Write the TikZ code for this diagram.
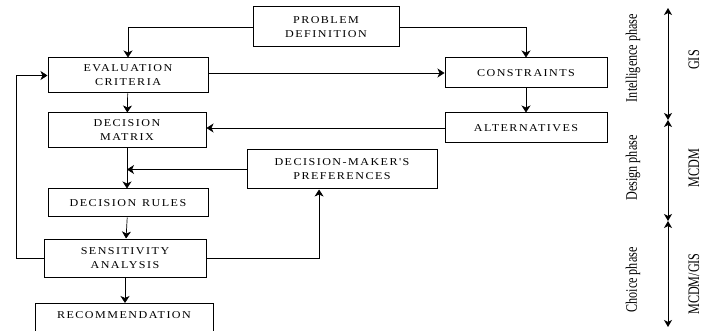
\documentclass[tikz,border=0pt]{standalone}
\usepackage{fontspec}
\setmainfont{Liberation Serif}
\newfontfamily\boxfont[LetterSpace=14,FakeStretch=1.15,WordSpace=1.3]{Liberation Serif}
\newfontfamily\phasefont[FakeStretch=0.76]{Liberation Serif}
\usetikzlibrary{arrows.meta,calc}

\tikzset{
	stepbox/.style={draw,line width=1pt,align=center,inner sep=2pt,
		font=\boxfont\fontsize{10.5}{14}\selectfont},
	link/.style={line width=0.7pt,-{Stealth[length=7pt,width=9pt,inset=2pt]}},
	phase/.style={line width=0.8pt,{Stealth[length=7pt,width=8pt,inset=2pt]}-{Stealth[length=7pt,width=8pt,inset=2pt]}},
	phaselabel/.style={rotate=90,inner sep=0pt,font=\phasefont\fontsize{16}{18}\selectfont}
}

\begin{document}
\begin{tikzpicture}[x=1pt,y=-1pt]
		\useasboundingbox (0,0) rectangle (704,331);
		
		% boxes, left column
		\node[stepbox,minimum width=146pt,minimum height=40pt] (prob) at (326,27) {PROBLEM\\DEFINITION};
		\node[stepbox,minimum width=160pt,minimum height=35pt] (eval) at (128,75.5) {EVALUATION\\CRITERIA};
		\node[stepbox,minimum width=158pt,minimum height=35pt] (matrix) at (127,130.5) {DECISION\\MATRIX};
		\node[stepbox,minimum width=160pt,minimum height=28pt] (rules) at (128,203) {DECISION RULES};
		\node[stepbox,minimum width=162pt,minimum height=38pt] (sens) at (125,258) {SENSITIVITY\\ANALYSIS};
		\node[stepbox,minimum width=178pt,anchor=north,text height=7pt,text depth=12pt,inner ysep=8pt] (recom) at (124,303) {RECOMMENDATION};
		
		% boxes, right column
		\node[stepbox,minimum width=162pt,minimum height=30pt] (cons) at (526,73) {CONSTRAINTS};
		\node[stepbox,minimum width=162pt,minimum height=30pt] (alt) at (526,128) {ALTERNATIVES};
		\node[stepbox,minimum width=190pt,minimum height=39pt] (pref) at (342,169.5) {DECISION-MAKER'S\\PREFERENCES};
		
		% flow
		\draw[link] (prob.west) -| (eval.north);
		\draw[link] (prob.east) -| (cons.north);
		\draw[link] (eval.east |- cons.west) -- (cons.west);
		\draw[link] (cons) -- (alt);
		\draw[link] (alt.west) -- (alt.west -| matrix.east);
		\draw[link] (eval) -- (matrix);
		\draw[link] (matrix.south) -- (matrix.south |- rules.north);
		\draw[link] (pref.west) -- (pref.west -| matrix.south);
		\draw[link] (rules) -- (sens);
		\draw[link] (sens.south) -- (sens.south |- recom.north);
		
		% feedback loops
		\coordinate (loop) at (16,0);
		\draw[link] (sens.west) -- (sens.west -| loop) |- (eval.west);
		\draw[link] (sens.east) -| ($(pref.south west)!0.38!(pref.south east)$);
		
		% phases
		\coordinate (t0) at (668,8);
		\coordinate (t1) at (668,120);
		\coordinate (t2) at (668,221);
		\coordinate (t3) at (668,327);
		\draw[phase] (t0) -- (t1);
		\draw[phase] (t1) -- (t2);
		\draw[phase] (t2) -- (t3);
		
		% labels
		\node[phaselabel] (intel) at (633,58) {Intelligence phase};
		\node[phaselabel] (design) at (633,168) {Design phase};
		\node[phaselabel] (choice) at (633,280) {Choice phase};
		\node[phaselabel] (gis) at (694,60) {GIS};
		\node[phaselabel] (mcdm) at (694,168) {MCDM};
		\node[phaselabel] (mcdmgis) at (694,284) {MCDM/GIS};
	\end{tikzpicture}
\end{document}
